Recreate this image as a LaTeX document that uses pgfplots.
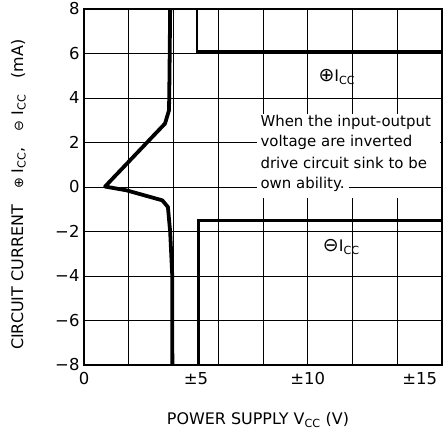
\documentclass[border=0pt]{standalone}
\usepackage{fontspec}
\setmainfont{DejaVu Sans}
\usepackage{pgfplots}
\pgfplotsset{compat=1.18}
\pgfplotstableread{
x y
3.85 8
3.82 5
3.80 3.45
3.62 2.85
0.94 0.02
1.9 -0.15
3.5 -0.6
3.75 -0.9
3.85 -2
3.94 -3.9
3.95 -8
}\curve
\pgfplotstableread{
x y
5.05 8
5.05 6.1
16 6.1
}\iccplus
\pgfplotstableread{
x y
5.1 -8
5.1 -1.5
16 -1.5
}\iccminus
\begin{document}
\begin{tikzpicture}
\begin{axis}[
  scale only axis, width=358bp, height=356bp,
  xmin=0, xmax=16, ymin=-8, ymax=8,
  xtick={0,2,...,16},
  xticklabels={0,{},{},{},{},{},{},{},{}},
  extra x ticks={5,10,15},
  extra x tick labels={±5,±10,±15},
  extra x tick style={grid=none, major tick length=0pt},
  ytick={-8,-6,...,8},
  yticklabels={−8,−6,−4,−2,0,2,4,6,8},
  major tick length=0pt,
  grid=major,
  grid style={black, line width=0.9pt},
  axis line style={black, line width=2.5pt},
  tick label style={font=\fontsize{16.5}{18}\selectfont},
  xticklabel style={yshift=-4bp},
  yticklabel style={xshift=-1bp},
  label style={font=\fontsize{16}{18}\selectfont},
  xlabel={POWER SUPPLY V\textsubscript{CC} (V)},
  ylabel={CIRCUIT CURRENT\quad{\fontsize{13}{14}\selectfont ⊕} I\textsubscript{CC},\quad{\fontsize{13}{14}\selectfont ⊖} I\textsubscript{CC}\quad(mA)},
  xlabel style={at={(axis description cs:0.486,-0.154)}, anchor=center},
  ylabel style={at={(axis description cs:-0.183,0.478)}, anchor=center},
  clip=false,
]
\fill[white] (axis cs:7.75,-0.5) rectangle (axis cs:15.9,3.3);
\draw[black, line width=0.9pt] (axis cs:11.85,0) -- (axis cs:16,0);
\node[anchor=west, inner sep=0pt, font=\fontsize{15}{16}\selectfont] at (axis cs:7.88,2.9) {When the input-output};
\node[anchor=west, inner sep=0pt, font=\fontsize{15}{16}\selectfont] at (axis cs:7.88,2.0) {voltage are inverted};
\node[anchor=west, inner sep=0pt, font=\fontsize{15}{16}\selectfont] at (axis cs:7.88,1.07) {drive circuit sink to be};
\node[anchor=west, inner sep=0pt, font=\fontsize{15}{16}\selectfont] at (axis cs:7.88,0.1) {own ability.};
\node[font=\fontsize{16}{18}\selectfont] at (axis cs:11.3,4.95) {{\fontsize{19}{20}\selectfont ⊕}I\textsubscript{CC}};
\node[font=\fontsize{16}{18}\selectfont] at (axis cs:11.5,-2.7) {{\fontsize{19}{20}\selectfont ⊖}I\textsubscript{CC}};
\addplot[black, line width=3.8pt, no markers, line join=round] table {\curve};
\addplot[black, line width=3pt, no markers] table {\iccplus};
\addplot[black, line width=3pt, no markers] table {\iccminus};
\end{axis}
\pgfresetboundingbox
\path[use as bounding box] ([xshift=-84bp,yshift=-80bp]current axis.south west) rectangle ([xshift=1bp,yshift=9bp]current axis.north east);
\end{tikzpicture}
\end{document}
